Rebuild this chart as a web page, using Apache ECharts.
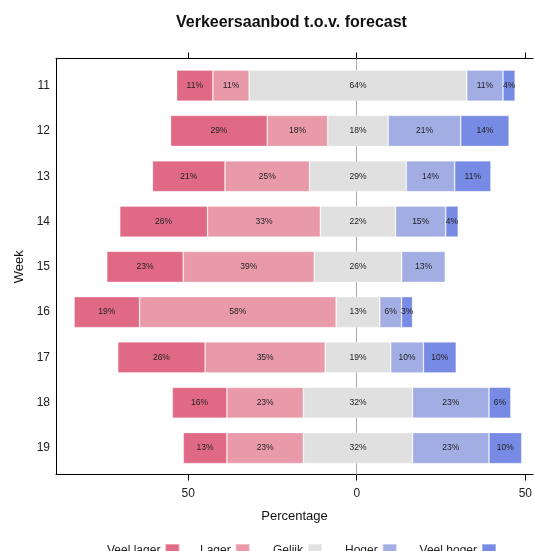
<!DOCTYPE html>
<html>
<head>
<meta charset="utf-8">
<script src="https://cdn.jsdelivr.net/npm/echarts@6/dist/echarts.min.js"></script>
<style>
html,body{margin:0;padding:0;background:#fff;}
#chart{width:535px;height:551px;}
</style>
</head>
<body>
<div id="chart"></div>
<script>
// ---- data ----
const weeks = ['11','12','13','14','15','16','17','18','19'];
const veelLager = [10.71, 28.57, 21.43, 25.93, 22.58, 19.35, 25.81, 16.13, 12.90];
const lager     = [10.71, 17.86, 25.00, 33.33, 38.71, 58.06, 35.48, 22.58, 22.58];
const gelijk    = [64.29, 17.86, 28.57, 22.22, 25.81, 12.90, 19.35, 32.26, 32.26];
const hoger     = [10.71, 21.43, 14.29, 14.81, 12.90,  6.45,  9.68, 22.58, 22.58];
const veelHoger = [ 3.57, 14.29, 10.71,  3.70,  0.00,  3.23,  9.68,  6.45,  9.68];
const seriesNames = ['Veel lager','Lager','Gelijk','Hoger','Veel hoger'];
const tickValues = [-50, 0, 50];

const colors = ['#E06A86','#E89AA8','#E0E0E0','#A2ADE4','#778AE4'];
const FONT = 'Liberation Sans';
const XMIN = -89.2, XMAX = 52.3;

// invisible offset so that the "Gelijk" segment is centred on 0
const base = weeks.map((w,i) => -(veelLager[i] + lager[i] + gelijk[i]/2));

const labelCfg = {
  show: true, position: 'inside', fontSize: 8.5, color: '#222', fontFamily: FONT,
  formatter: p => p.value > 0 ? Math.round(p.value) + '%' : ''
};

const values = [veelLager, lager, gelijk, hoger, veelHoger];
const barSeries = values.map((arr, k) => ({
  name: seriesNames[k], type: 'bar', stack: 'all', stackStrategy: 'all',
  xAxisIndex: 2, yAxisIndex: 1, barWidth: 31, z: 10,
  itemStyle: { color: colors[k], borderColor: 'rgba(255,255,255,0.35)', borderWidth: 0.8 },
  label: labelCfg, data: arr
}));

const chart = echarts.init(document.getElementById('chart'), null, {renderer: 'canvas'});

const legendX = [107, 200, 273, 345, 419.6];
const legendW = [47, 27, 25.6, 28.6, 50.4];

chart.setOption({
  animation: false,
  textStyle: { fontFamily: FONT },
  title: {
    text: 'Verkeersaanbod t.o.v. forecast', left: 171, top: 10,
    textStyle: { fontSize: 16, fontWeight: 'bold', color: '#111', fontFamily: FONT }
  },
  legend: seriesNames.map((n, i) => ({
    data: [n], left: legendX[i], top: 543, align: 'right', icon: 'rect',
    itemWidth: 14, itemHeight: 14, padding: 0, selectedMode: false,
    textStyle: { fontSize: 12, color: '#222', fontFamily: FONT, width: legendW[i], overflow: 'none' }
  })),
  grid: [
    { left: 56, right: 0, top: 58.5, bottom: 76.5 },
    { left: 56, right: 0, top: 63, bottom: 80.3 }
  ],
  xAxis: [
    { type: 'value', gridIndex: 0, position: 'bottom', min: XMIN, max: XMAX,
      axisLine: { show: true, onZero: false, lineStyle: { color: '#000', width: 1 } },
      axisTick: { show: true, length: 6, customValues: tickValues, lineStyle: { color: '#000' } },
      axisLabel: { show: true, customValues: tickValues, margin: 13, fontSize: 12, color: '#222',
                   formatter: v => String(Math.abs(v)) },
      splitLine: { show: false },
      name: 'Percentage', nameLocation: 'middle', nameGap: 35,
      nameTextStyle: { fontSize: 13, color: '#111', fontFamily: FONT } },
    { type: 'value', gridIndex: 0, position: 'top', min: XMIN, max: XMAX,
      axisLine: { show: true, onZero: false, lineStyle: { color: '#000', width: 1 } },
      axisTick: { show: true, length: 6, customValues: tickValues, lineStyle: { color: '#000' } },
      axisLabel: { show: false }, splitLine: { show: false } },
    { type: 'value', gridIndex: 1, min: XMIN, max: XMAX, show: false }
  ],
  yAxis: [
    { type: 'value', gridIndex: 0, min: 0, max: 1, position: 'left',
      axisLine: { show: true, onZero: false, lineStyle: { color: '#000', width: 1 } },
      axisTick: { show: false }, axisLabel: { show: false }, splitLine: { show: false } },
    { type: 'category', gridIndex: 1, data: weeks, inverse: true,
      axisLine: { show: false }, axisTick: { show: false },
      axisLabel: { fontSize: 12, color: '#222', margin: 6 },
      name: 'Week', nameLocation: 'middle', nameGap: 18, nameRotate: 90,
      nameTextStyle: { fontSize: 13, color: '#111', fontFamily: FONT } }
  ],
  series: [
    { type: 'line', xAxisIndex: 0, yAxisIndex: 0, data: [], z: 1, silent: true,
      markLine: { silent: true, symbol: 'none', label: { show: false },
        lineStyle: { color: '#aaa', type: 'solid', width: 1 },
        data: [{ xAxis: 0 }] } },
    { name: '_base', type: 'bar', stack: 'all', stackStrategy: 'all',
      xAxisIndex: 2, yAxisIndex: 1, barWidth: 31, silent: true, z: 9,
      itemStyle: { color: 'rgba(0,0,0,0)' }, label: { show: false }, data: base }
  ].concat(barSeries)
});
</script>
</body>
</html>
